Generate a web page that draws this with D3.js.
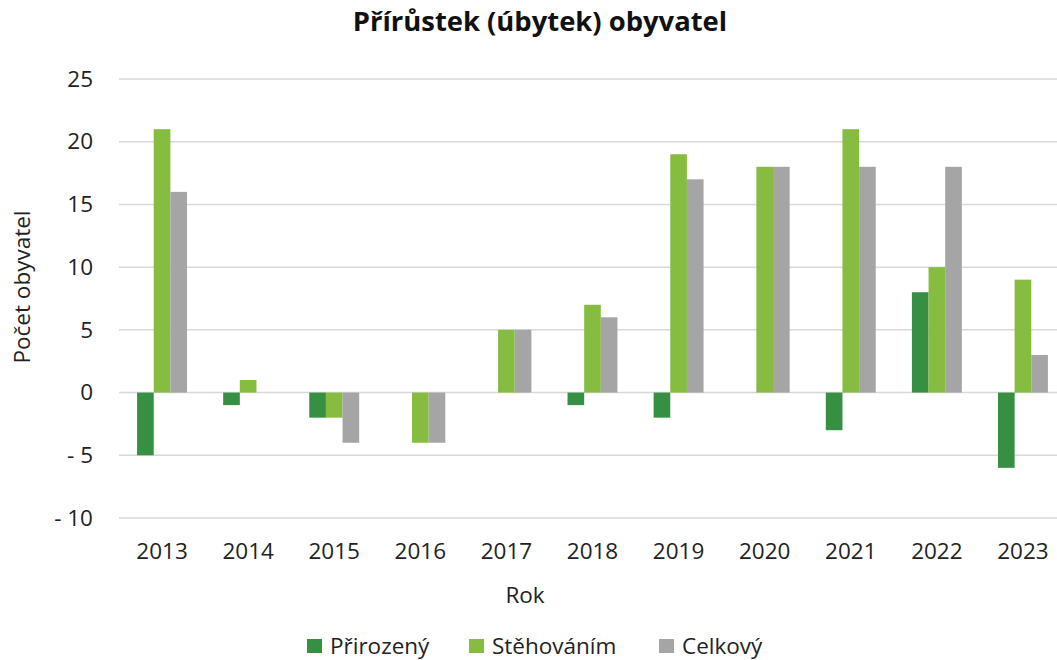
<!DOCTYPE html>
<html>
<head>
<meta charset="utf-8">
<style>
  body { margin: 0; background: #fff; }
  svg { font-family: "Open Sans", "Noto Sans", sans-serif; display: block; }
  .grid line { stroke: #d9d9d9; stroke-width: 1.5px; }
  .tick text { fill: #222; }
</style>
</head>
<body>
<svg width="1057" height="660"></svg>
<script src="https://d3js.org/d3.v7.min.js"></script>
<script>

var years = ["2013", "2014", "2015", "2016", "2017", "2018", "2019", "2020", "2021", "2022", "2023"];
var prirozeny  = [-5, -1, -2,  0, 0, -1, -2,  0, -3,  8, -6];
var stehovanim = [21,  1, -2, -4, 5,  7, 19, 18, 21, 10,  9];
var celkovy    = [16,  0, -4, -4, 5,  6, 17, 18, 18, 18,  3];
var seriesNames = ["Přirozený", "Stěhováním", "Celkový"];
var seriesColors = ["#378f43", "#86bd41", "#a5a5a5"];
var yTicks = [-10, -5, 0, 5, 10, 15, 20, 25];

var series = [prirozeny, stehovanim, celkovy];

var svg = d3.select("svg");

var x = d3.scaleBand()
    .domain(years)
    .range([119, 1066])
    .paddingInner(0.42)
    .paddingOuter(0.21);

var xs = d3.scaleBand()
    .domain(d3.range(series.length))
    .range([0, x.bandwidth()]);

var y = d3.scaleLinear()
    .domain([-10, 25])
    .range([518, 79]);

var fmt = function(d) { return d < 0 ? "- " + Math.abs(d) : "" + d; };

// gridlines
svg.append("g")
    .attr("class", "grid")
  .selectAll("line")
  .data(yTicks)
  .enter().append("line")
    .attr("x1", 119)
    .attr("x2", 1066)
    .attr("y1", function(d) { return y(d); })
    .attr("y2", function(d) { return y(d); });

// y axis labels
var yAxis = svg.append("g")
    .attr("transform", "translate(93,0)")
    .call(d3.axisLeft(y).tickValues(yTicks).tickFormat(fmt).tickSize(0).tickPadding(0));
yAxis.attr("font-family", null).attr("font-size", null);
yAxis.select(".domain").remove();
yAxis.selectAll("text").style("font-size", "22.5px");

// x axis labels
var xAxis = svg.append("g")
    .attr("transform", "translate(0,543)")
    .call(d3.axisBottom(x).tickSize(0).tickPadding(0));
xAxis.attr("font-family", null).attr("font-size", null);
xAxis.select(".domain").remove();
xAxis.selectAll("text").style("font-size", "22.5px");

// bars
var groups = svg.append("g").selectAll("g")
  .data(years)
  .enter().append("g")
    .attr("transform", function(d) { return "translate(" + x(d) + ",0)"; });

groups.selectAll("rect")
  .data(function(d, i) { return series.map(function(s, k) { return {k: k, v: s[i]}; }); })
  .enter().append("rect")
    .attr("x", function(d) { return xs(d.k); })
    .attr("width", xs.bandwidth())
    .attr("y", function(d) { return y(Math.max(0, d.v)); })
    .attr("height", function(d) { return Math.abs(y(d.v) - y(0)); })
    .attr("fill", function(d) { return seriesColors[d.k]; });

// title
svg.append("text")
    .attr("x", 540)
    .attr("y", 31)
    .attr("text-anchor", "middle")
    .style("font-weight", "bold")
    .style("font-size", "27.4px")
    .attr("fill", "#111")
    .text("Přírůstek (úbytek) obyvatel");

// axis titles
svg.append("text")
    .attr("transform", "translate(30,287) rotate(-90)")
    .attr("text-anchor", "middle")
    .style("font-size", "22.5px")
    .attr("fill", "#222")
    .text("Počet obyvatel");

svg.append("text")
    .attr("x", 525)
    .attr("y", 603)
    .attr("text-anchor", "middle")
    .style("font-size", "22.5px")
    .attr("fill", "#222")
    .text("Rok");

// legend
var legendX = [307, 469, 659];
var legend = svg.append("g").selectAll("g")
  .data(seriesNames)
  .enter().append("g")
    .attr("transform", function(d, i) { return "translate(" + legendX[i] + ",639)"; });

legend.append("rect")
    .attr("width", 15)
    .attr("height", 14)
    .attr("fill", function(d, i) { return seriesColors[i]; });

legend.append("text")
    .attr("x", 23)
    .attr("y", 15)
    .style("font-size", "22.5px")
    .attr("fill", "#222")
    .text(function(d) { return d; });

</script>
</body>
</html>
